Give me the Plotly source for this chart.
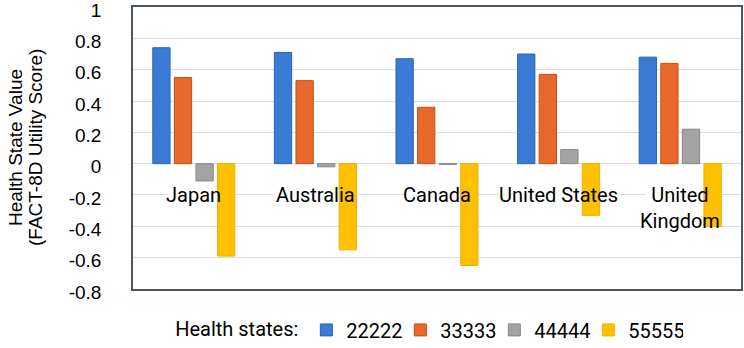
import plotly.graph_objects as go

countries = ["Japan", "Australia", "Canada", "United States", "United Kingdom"]
country_labels = ["Japan", "Australia", "Canada", "United States", "United<br>Kingdom"]
states = ["22222", "33333", "44444", "55555"]
v_22222 = [0.74, 0.71, 0.67, 0.70, 0.68]
v_33333 = [0.55, 0.53, 0.36, 0.57, 0.64]
v_44444 = [-0.11, -0.02, -0.005, 0.09, 0.22]
v_55555 = [-0.59, -0.55, -0.65, -0.33, -0.40]
series = [v_22222, v_33333, v_44444, v_55555]
y_ticks = [-0.8, -0.6, -0.4, -0.2, 0, 0.2, 0.4, 0.6, 0.8, 1]
y_tick_labels = ["-0.8", "-0.6", "-0.4", "-0.2", "0", "0.2", "0.4", "0.6", "0.8", "1"]

fills = ["#3A7BD5", "#E8672A", "#A3A3A3", "#FFC000"]
edges = ["#2A62B5", "#C84E14", "#888888", "#F0B000"]

fig = go.Figure()
for name, vals, fc, ec in zip(states, series, fills, edges):
    fig.add_trace(go.Bar(x=countries, y=vals, name=name,
                         marker=dict(color=fc, line=dict(color=ec, width=1))))

label_font = dict(family="Roboto", size=20, color="#000000")
shapes = []
annotations = []
for i, (c, lab) in enumerate(zip(countries, country_labels)):
    lines = lab.split("<br>")
    hw = 0.036 * max(len(s) for s in lines) + 0.03
    shapes.append(dict(type="rect", layer="between", xref="x", yref="y",
                       x0=i - hw, x1=i + hw, y0=-0.1,
                       y1=-0.1 - 0.18 * len(lines),
                       fillcolor="white", line=dict(width=0)))
    annotations.append(dict(x=c, y=-0.112, xref="x", yref="y", text=lab,
                            showarrow=False, yanchor="top", xanchor="center",
                            font=label_font))

title_font = dict(family="Liberation Sans", size=19, color="#000000")
annotations.append(dict(x=0, y=0.5, xref="paper", yref="paper", xanchor="center",
                        yanchor="middle", xshift=-118, textangle=-90,
                        text="Health State Value", showarrow=False, font=title_font))
annotations.append(dict(x=0, y=0.5, xref="paper", yref="paper", xanchor="center",
                        yanchor="middle", xshift=-98, textangle=-90,
                        text="(FACT-8D Utility Score)", showarrow=False, font=title_font))

fig.update_layout(
    width=744, height=348,
    margin=dict(l=133, r=3, t=7, b=59, autoexpand=False),
    paper_bgcolor="white", plot_bgcolor="white",
    barmode="group", bargap=0.29, bargroupgap=0.2,
    showlegend=True,
    legend=dict(orientation="h", xref="paper", x=0.066, xanchor="left",
                yref="container", y=0.108, yanchor="top",
                title=dict(text="Health states:", font=dict(family="Roboto", size=20, color="#000")),
                font=dict(family="Roboto", size=20, color="#000"),
                entrywidth=49, bgcolor="rgba(0,0,0,0)"),
    shapes=shapes,
    annotations=annotations,
)
fig.update_xaxes(showticklabels=False, showgrid=False, showline=True, mirror=True,
                 linecolor="#4A5666", linewidth=1.5, ticks="")
fig.update_yaxes(range=[-0.8001, 1.0001], tickvals=y_ticks, ticktext=y_tick_labels,
                 showgrid=True, gridcolor="#DCDCDC", gridwidth=1,
                 zeroline=True, zerolinecolor="#DCDCDC", zerolinewidth=1,
                 showline=True, mirror=True, linecolor="#4A5666", linewidth=1.5,
                 ticks="", ticklabelstandoff=26, ticklabeloverflow="allow",
                 ticklabelshift=3,
                 tickfont=dict(family="Liberation Sans", size=19, color="#000"))

fig.write_html("out.html")
